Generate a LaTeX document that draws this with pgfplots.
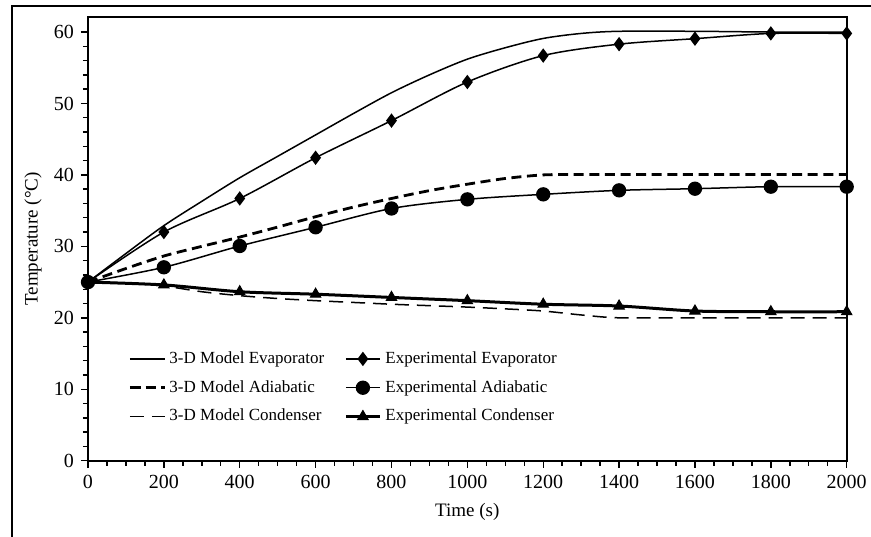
\documentclass[border=0pt]{standalone}
\usepackage{fontspec}
\setmainfont{Liberation Serif}
\usepackage{pgfplots}
\pgfplotsset{compat=1.18}
\begin{document}
\begin{tikzpicture}
\useasboundingbox (0,0) rectangle (435.5pt,268pt);
\draw[line width=1pt] (6pt,-20pt) rectangle (470pt,265pt);
\begin{axis}[
  at={(44pt,37.65pt)}, anchor=south west,
  scale only axis, width=379.35pt, height=221.85pt,
  xmin=0, xmax=2000, ymin=0, ymax=62.1,
  xtick={0,200,...,2000}, ytick={0,10,...,60},
  minor x tick num=3, minor y tick num=4,
  tick align=outside, tick pos=left,
  major tick length=3.5pt, minor tick length=2.5pt,
  axis line style={line width=0.8pt},
  every tick/.style={line width=0.7pt, black},
  /pgf/number format/1000 sep={},
  /pgf/number format/assume math mode=true,
  ticklabel style={font=\fontsize{10}{12}\selectfont},
  label style={font=\fontsize{9.5}{11}\selectfont},
  xlabel={Time (s)}, ylabel={Temperature (°C)},
  xlabel style={at={(axis description cs:0.5,0)}, yshift=-25.5pt, anchor=center},
  ylabel style={at={(axis description cs:-0.0725,0.5)}, anchor=center},
  legend columns=2,
  legend cell align=left,
  legend style={at={(0.045,0.265)}, anchor=north west, draw=none, fill=none,
    font=\fontsize{8.5}{10}\selectfont, row sep=3pt,
    /tikz/every even column/.append style={column sep=8pt}},
]
\addplot[black, line width=0.75pt, smooth] coordinates {
(0,25) (100,29) (200,32.9) (300,36.3) (400,39.6) (500,42.6) (600,45.6) (700,48.6)
(800,51.5) (900,54) (1000,56.2) (1100,57.8) (1200,59.1) (1300,59.8) (1400,60.1)
(1600,60.1) (1800,60.0) (2000,60.0)};
\addlegendentry{3-D Model Evaporator}
\addplot[black, line width=0.75pt, smooth, mark=diamond*, mark size=3pt, mark options={solid}] coordinates {
(0,25) (200,32.0) (400,36.7) (600,42.4) (800,47.6) (1000,53.0) (1200,56.7)
(1400,58.3) (1600,59.07) (1800,59.8) (2000,59.8)};
\addlegendentry{Experimental Evaporator}
\addplot[black, line width=1.4pt, smooth, dash pattern=on 5pt off 2.8pt] coordinates {
(0,25) (100,26.9) (200,28.65) (300,30) (400,31.3) (500,32.7) (600,34.15) (700,35.5)
(800,36.7) (900,37.8) (1000,38.7) (1100,39.5) (1200,40.0) (1300,40.05) (1400,40.05)
(1600,40.05) (2000,40.05)};
\addlegendentry{3-D Model Adiabatic}
\addplot[black, line width=0.75pt, smooth, mark=*, mark size=3.2pt, mark options={solid}] coordinates {
(0,25) (200,27.07) (400,30.05) (600,32.67) (800,35.3) (1000,36.58) (1200,37.28)
(1400,37.84) (1600,38.07) (1800,38.35) (2000,38.35)};
\addlegendentry{Experimental Adiabatic}
\addplot[black, line width=0.75pt, smooth, dash pattern=on 7pt off 4pt] coordinates {
(0,25) (100,24.85) (200,24.45) (300,23.65) (400,23.1) (500,22.7) (600,22.4) (700,22.15)
(800,21.9) (900,21.7) (1000,21.5) (1100,21.25) (1200,20.95) (1300,20.4) (1400,20.0)
(1600,20.0) (1800,20.0) (2000,20.0)};
\addlegendentry{3-D Model Condenser}
\addplot[black, line width=1.5pt, smooth, mark=triangle*, mark size=3pt, mark options={solid, line width=0.5pt}] coordinates {
(0,25) (200,24.6) (400,23.65) (600,23.3) (800,22.85) (1000,22.4) (1200,21.9)
(1400,21.65) (1600,20.95) (1800,20.85) (2000,20.85)};
\addlegendentry{Experimental Condenser}
\end{axis}
\end{tikzpicture}
\end{document}
